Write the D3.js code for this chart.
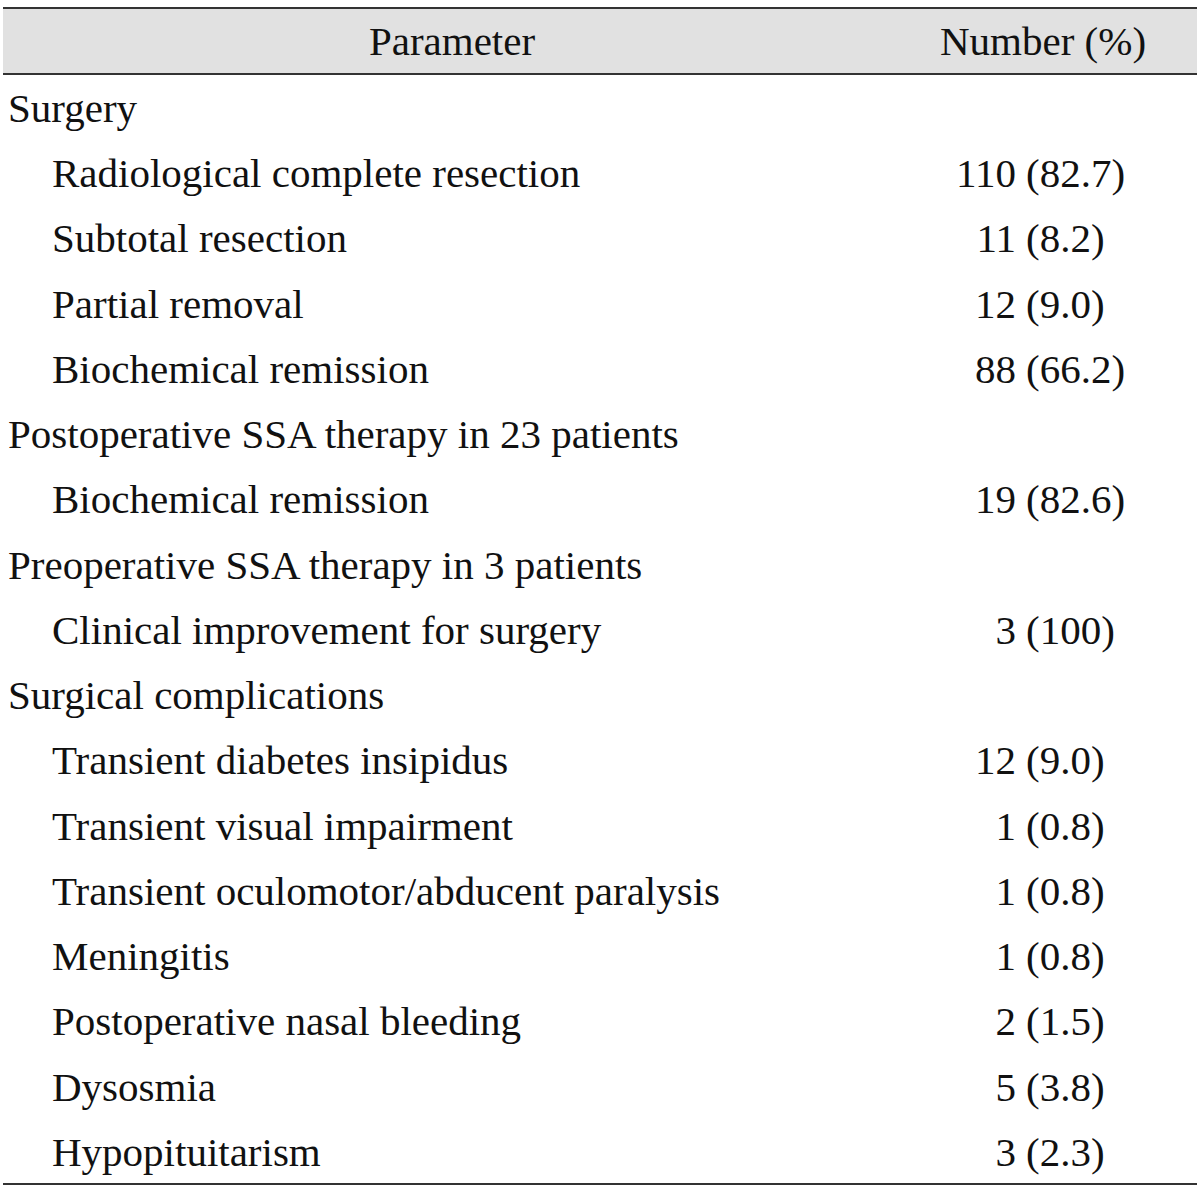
<!DOCTYPE html>
<html><head><meta charset="utf-8">
<script src="https://cdn.jsdelivr.net/npm/d3@7/dist/d3.min.js"></script>
<style>body{margin:0;background:#fff}svg{display:block}</style>
</head><body>
<script>
const headers = ["Parameter", "Number (%)"];
const sectionTitles = ["Surgery", "Postoperative SSA therapy in 23 patients", "Preoperative SSA therapy in 3 patients", "Surgical complications"];
const itemLabels = ["Radiological complete resection", "Subtotal resection", "Partial removal", "Biochemical remission",
  "Biochemical remission", "Clinical improvement for surgery",
  "Transient diabetes insipidus", "Transient visual impairment", "Transient oculomotor/abducent paralysis",
  "Meningitis", "Postoperative nasal bleeding", "Dysosmia", "Hypopituitarism"];
const itemSection = [0,0,0,0,1,2,3,3,3,3,3,3,3];
const counts = [110,11,12,88,19,3,12,1,1,1,2,5,3];
const percents = ["82.7","8.2","9.0","66.2","82.6","100","9.0","0.8","0.8","0.8","1.5","3.8","2.3"];

const W = 1200, H = 1192;
const rows = [];
sectionTitles.forEach((t, s) => {
  rows.push({type: "section", label: t});
  itemLabels.forEach((l, i) => { if (itemSection[i] === s) rows.push({type: "item", label: l, count: counts[i], pct: percents[i]}); });
});

const svg = d3.select("body").append("svg").attr("width", W).attr("height", H);
const font = "'Liberation Serif', 'Times New Roman', serif";
const fs = 41;

const headTop = 8, headBot = 74, tableBot = 1184;
const y = d3.scaleBand().domain(d3.range(rows.length)).range([headBot + 1, tableBot]);

svg.append("rect").attr("x", 3).attr("y", headTop).attr("width", W - 6).attr("height", headBot - headTop).attr("fill", "#e1e1e1");
[headTop, headBot, tableBot].forEach(v => svg.append("line").attr("x1", 3).attr("x2", W - 3).attr("y1", v).attr("y2", v).attr("stroke", "#333").attr("stroke-width", 2));

const headY = (headTop + headBot) / 2;
svg.append("text").attr("x", 452).attr("y", headY).attr("dy", "0.35em").attr("text-anchor", "middle")
  .attr("font-family", font).attr("font-size", fs).attr("fill", "#111").text(headers[0]);
svg.append("text").attr("x", 1043).attr("y", headY).attr("dy", "0.35em").attr("text-anchor", "middle")
  .attr("font-family", font).attr("font-size", fs).attr("fill", "#111").text(headers[1]);

const g = svg.selectAll("g.row").data(rows).join("g").attr("class", "row")
  .attr("transform", (d, i) => `translate(0,${y(i) + y.bandwidth() / 2})`);
g.append("text").attr("x", d => d.type === "section" ? 8 : 52).attr("dy", "0.35em")
  .attr("font-family", font).attr("font-size", fs).attr("fill", "#111").text(d => d.label);
const items = g.filter(d => d.type === "item");
items.append("text").attr("x", 1016).attr("dy", "0.35em").attr("text-anchor", "end")
  .attr("font-family", font).attr("font-size", fs).attr("fill", "#111").text(d => d.count);
items.append("text").attr("x", 1026).attr("dy", "0.35em")
  .attr("font-family", font).attr("font-size", fs).attr("fill", "#111").text(d => `(${d.pct})`);
</script>
</body></html>
